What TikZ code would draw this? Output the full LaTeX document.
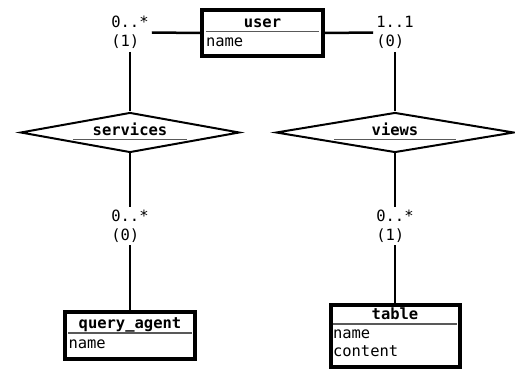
\documentclass[tikz,border=0pt]{standalone}
\usepackage{fontspec}
\setmonofont{DejaVu Sans Mono}
\usetikzlibrary{positioning, shapes.geometric}

\begin{document}
\begin{tikzpicture}[x=1pt, y=-1pt, font=\ttfamily\fontsize{15.5}{19}\selectfont]
\tikzset{entity/.style={rectangle, draw, line width=4pt, inner sep=0pt},
		relation/.style={diamond, draw, line width=2pt, inner sep=0pt},
		ename/.style={font=\ttfamily\bfseries\fontsize{15.5}{19}\selectfont, inner sep=0pt, text height=10pt, text depth=4pt},
		attr/.style={inner sep=0pt, text height=10pt, text depth=4pt},
		card/.style={align=left, inner sep=3pt},
		link/.style={line width=2.5pt},
		uline/.style={line width=1.2pt, black!65}}
\useasboundingbox (0,0) rectangle (515,369);
% entities
\node[entity, minimum width=121pt, minimum height=46pt] (user) at (262.5,33) {};
\node[ename, minimum width=113pt, below=9pt of user.north] (username) {user};
\draw[uline] (username.south west) -- (username.south east);
\node[attr, below=5pt of username.south west, anchor=north west] (username1) {name};
\node[entity, minimum width=130pt, minimum height=46.7pt] (query) at (130,335.3) {};
\node[ename, minimum width=123pt, below=8.7pt of query.north] (queryname) {query\_agent};
\draw[uline] (queryname.south west) -- (queryname.south east);
\node[attr, below=5pt of queryname.south west, anchor=north west] (queryname1) {name};
\node[entity, minimum width=129pt, minimum height=62pt] (table) at (395,336) {};
\node[ename, minimum width=124pt, below=6.6pt of table.north] (tablename) {table};
\draw[uline] (tablename.south west) -- (tablename.south east);
\node[attr, below=4pt of tablename.south west, anchor=north west] (tablename1) {name};
\node[attr, below=4pt of tablename1.south west, anchor=north west] (tablename2) {content};
% relations
\node[relation, minimum width=219pt, minimum height=40pt] (services) at (130,132.5) {};
\node[ename, minimum width=114pt] (servicesname) at (services) {services};
\draw[uline] (servicesname.south west) -- (servicesname.south east);
\node[relation, minimum width=238pt, minimum height=40pt] (views) at (395,132.5) {};
\node[ename, minimum width=122pt] (viewsname) at (views) {views};
\draw[uline] (viewsname.south west) -- (viewsname.south east);
% cardinalities
\node[card] (card1) at (130,32.5) {0..*\\(1)};
\node[card] (card2) at (395,32.5) {1..1\\(0)};
\node[card] (card3) at (130,226) {0..*\\(0)};
\node[card] (card4) at (395,226) {0..*\\(1)};
\draw[link] (user.west) -- (card1.east);
\draw[link] (card1.south) -- (services.north);
\draw[link] (services.south) -- (card3.north);
\draw[link] (card3.south) -- (query.north);
\draw[link] (user.east) -- (card2.west);
\draw[link] (card2.south) -- (views.north);
\draw[link] (views.south) -- (card4.north);
\draw[link] (card4.south) -- (table.north);
\end{tikzpicture}
\end{document}
